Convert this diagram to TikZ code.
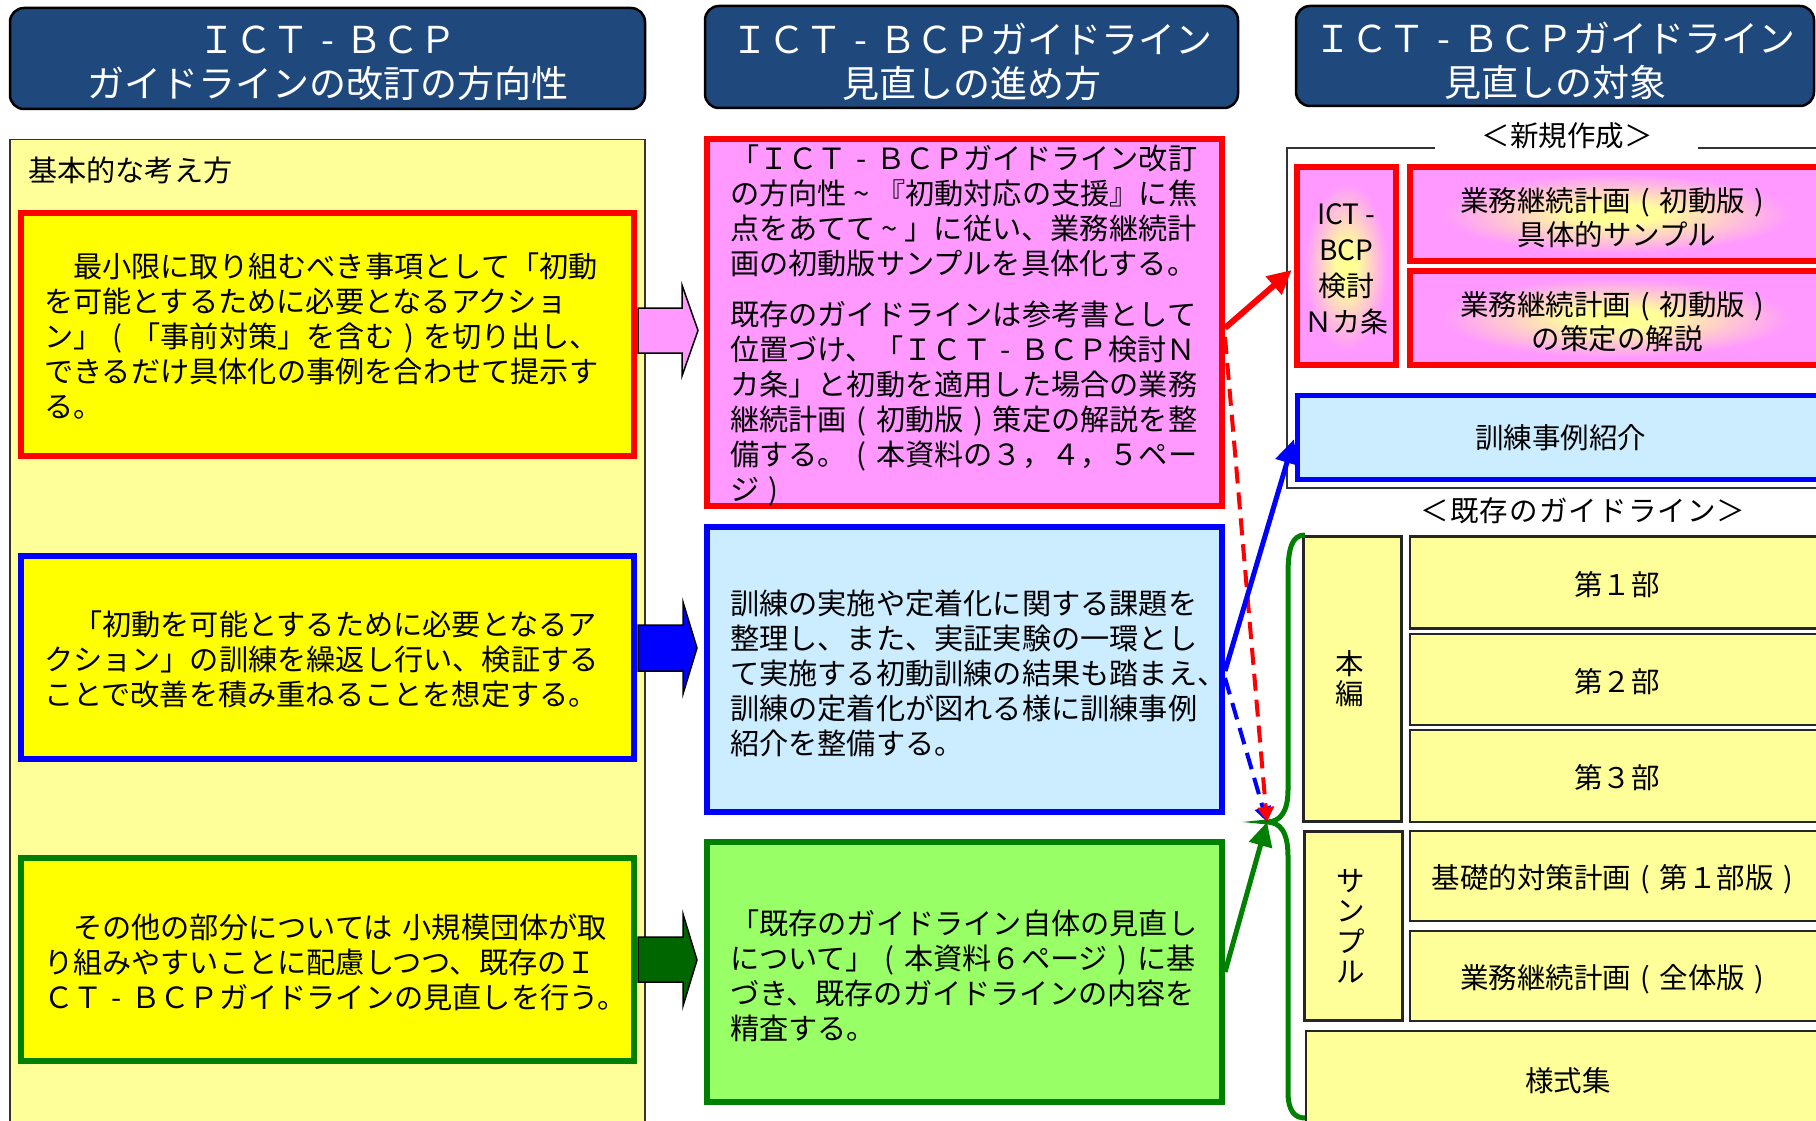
\documentclass[tikz,border=0pt]{standalone}
\usepackage{fontspec}
\setmainfont{Noto Sans CJK JP}
\usetikzlibrary{arrows.meta}
\definecolor{hdrblue}{HTML}{1F497D}
\definecolor{paleyel}{HTML}{FFFF99}
\definecolor{yel}{HTML}{FFFF00}
\definecolor{pinkfill}{HTML}{FF99FF}
\definecolor{skyfill}{HTML}{CCECFF}
\definecolor{limefill}{HTML}{99FF66}
\definecolor{dgreen}{HTML}{008000}
\definecolor{arrgreen}{HTML}{006600}
\pgfdeclareradialshading{pinkglow}{\pgfpoint{0bp}{0bp}}{rgb(0bp)=(1,1,0.55); rgb(5bp)=(1,1,0.6); rgb(21bp)=(1,0.6,1); rgb(50bp)=(1,0.6,1)}
\newcommand{\hdrfont}{\fontsize{37}{44}\selectfont}
\newcommand{\bodyfont}{\fontsize{29.2}{35}\selectfont}
\newcommand{\rfont}{\fontsize{28.5}{34}\selectfont}
\newcommand{\fhy}{\makebox[1em]{-}}
\newcommand{\ftl}{\makebox[1em]{\textasciitilde}}
\newcommand{\lp}{\makebox[1em]{(}}
\newcommand{\rp}{\makebox[1em]{)}}
\tikzset{
  hdr/.style={draw=black, line width=2.5pt, fill=hdrblue, rounded corners=14pt, inner sep=0pt},
  hdrtext/.style={text=white, font=\hdrfont, align=center, inner sep=0pt},
  lbox/.style={line width=6pt, fill=yel, inner sep=0pt, minimum width=613pt},
  ltext/.style={font=\bodyfont, align=left, inner sep=0pt, text width=567pt},
  mbox/.style={line width=6pt, inner sep=0pt, minimum width=515pt},
  mtext/.style={font=\bodyfont, align=left, inner sep=0pt, text width=469pt},
  glowbox/.style={draw=red, line width=6pt, shading=pinkglow, shade, inner sep=0pt},
  oldbox/.style={draw=black!85, line width=2.5pt, fill=paleyel, inner sep=0pt},
  rtext/.style={font=\rfont, align=center, inner sep=0pt},
  lbl/.style={font=\rfont, inner sep=0pt},
  blockarrow/.style={draw=black, line width=1.5pt},
  bigtip/.style={-{Triangle[length=24pt,width=23pt]}},
  smalltip/.style={-{Triangle[length=15pt,width=16pt]}},
  redsolid/.style={bigtip, draw=red, line width=6pt, shorten >=3pt},
  bluesolid/.style={bigtip, draw=blue, line width=5pt, shorten >=2.5pt},
  greensolid/.style={bigtip, draw=dgreen, line width=5pt},
  reddash/.style={smalltip, draw=red, line width=4pt, dash pattern=on 17pt off 9pt},
  bluedash/.style={smalltip, draw=blue, line width=4pt, dash pattern=on 17pt off 9pt},
  bracestyle/.style={draw=dgreen, line width=5pt}
}
\begin{document}
\begin{tikzpicture}[x=1pt, y=-1pt]
\useasboundingbox (0,0) rectangle (1816,1121);
\clip (0,0) rectangle (1816,1121);
\fill[white] (0,0) rectangle (1816,1121);

% headers
\node[hdr, minimum width=635pt, minimum height=101pt] (H1) at (327.5,58.5) {};
\node[hdrtext] (H1t) at ([yshift=-5pt]H1.center) {ＩＣＴ\fhy ＢＣＰ\\ガイドラインの改訂の方向性};
\node[hdr, minimum width=533pt, minimum height=102pt] (H2) at (971.5,57) {};
\node[hdrtext] (H2t) at ([yshift=-5pt]H2.center) {ＩＣＴ\fhy ＢＣＰガイドライン\\見直しの進め方};
\node[hdr, minimum width=518pt, minimum height=100pt] (H3) at (1555,56) {};
\node[hdrtext] (H3t) at ([yshift=-5pt]H3.center) {ＩＣＴ\fhy ＢＣＰガイドライン\\見直しの対象};

% left panel
\node[draw=black!80, line width=1.5pt, fill=paleyel, minimum width=635pt, minimum height=1000pt, anchor=north west, inner sep=0pt] (panel) at (9,139) {};
\node[anchor=west, font=\bodyfont, inner sep=0pt] (kihon) at (28,170) {基本的な考え方};

\node[lbox, draw=red, minimum height=243pt] (L1) at (327.5,334.5) {};
\node[ltext] (L1t) at ([yshift=-2pt]L1.center) {　最小限に取り組むべき事項として「初動\\を可能とするために必要となるアクショ\\ン」\lp「事前対策」を含む\rp を切り出し、\\できるだけ具体化の事例を合わせて提示す\\る。};
\node[lbox, draw=blue, minimum height=203pt] (L2) at (327.5,657.5) {};
\node[ltext] (L2t) at ([yshift=-1.5pt]L2.center) {　「初動を可能とするために必要となるア\\クション」の訓練を繰返し行い、検証する\\ことで改善を積み重ねることを想定する。};
\node[lbox, draw=dgreen, minimum height=203pt] (L3) at (327.5,959.5) {};
\node[ltext] (L3t) at ([yshift=-3pt]L3.center) {　その他の部分については~小規模団体が取\\り組みやすいことに配慮しつつ、既存のＩ\\ＣＴ\fhy ＢＣＰガイドラインの見直しを行う。};

% block arrows
\draw[blockarrow, fill=pinkfill] (638,308) -- (682,308) -- (682,285) -- (698,330.5) -- (682,376) -- (682,353) -- (638,353) -- cycle;
\draw[blockarrow, fill=blue] (638,625) -- (683,625) -- (683,602) -- (697,648) -- (683,694) -- (683,671) -- (638,671) -- cycle;
\draw[blockarrow, fill=arrgreen] (638,937) -- (683,937) -- (683,914) -- (697,960) -- (683,1006) -- (683,982) -- (638,982) -- cycle;

% middle column
\node[mbox, draw=red, fill=pinkfill, minimum height=367pt] (M1) at (964.5,322.5) {};
\node[mtext] (M1t) at ([yshift=-3.5pt]M1.center) {「ＩＣＴ\fhy ＢＣＰガイドライン改訂\\の方向性\ftl『初動対応の支援』に焦\\点をあてて\ftl」に従い、業務継続計\\画の初動版サンプルを具体化する。\\[16pt]既存のガイドラインは参考書として\\位置づけ、「ＩＣＴ\fhy ＢＣＰ検討Ｎ\\カ条」と初動を適用した場合の業務\\継続計画\lp 初動版\rp 策定の解説を整\\備する。\lp 本資料の３，４，５ペー\\ジ\rp};
\node[mbox, draw=blue, fill=skyfill, minimum height=285pt] (M2) at (964.5,669.5) {};
\node[mtext] (M2t) at ([yshift=-3.5pt]M2.center) {訓練の実施や定着化に関する課題を\\整理し、また、実証実験の一環とし\\て実施する初動訓練の結果も踏まえ、\\訓練の定着化が図れる様に訓練事例\\紹介を整備する。};
\node[mbox, draw=dgreen, fill=limefill, minimum height=260pt] (M3) at (964.5,972) {};
\node[mtext] (M3t) at ([yshift=-3.5pt]M3.center) {「既存のガイドライン自体の見直し\\について」\lp 本資料６ページ\rp に基\\づき、既存のガイドラインの内容を\\精査する。};

% right column: new
\draw[line width=2pt, black!80] (1435,148) -| (1287,488) -- (1830,488);
\draw[line width=2pt, black!80] (1698,148) -- (1830,148);
\node[lbl] (shinki) at (1567,136) {＜新規作成＞};
\node[glowbox, minimum width=99pt, minimum height=198pt] (ICT) at (1346.5,266) {};
\node[rtext, font={\fontsize{28}{36}\selectfont}] (ICTt) at ([yshift=-3pt]ICT.center) {ICT -\\BCP\\検討\\Ｎカ条};
\node[glowbox, minimum width=414pt, minimum height=94pt] (R1) at (1617,214) {};
\node[rtext] (R1t) at ([yshift=-3.5pt]R1.center) {業務継続計画\lp 初動版\rp\\具体的サンプル};
\node[glowbox, minimum width=414pt, minimum height=94pt] (R2) at (1617,318) {};
\node[rtext] (R2t) at ([yshift=-3.5pt]R2.center) {業務継続計画\lp 初動版\rp\\の策定の解説};
\node[draw=blue, line width=5pt, fill=skyfill, minimum width=527pt, minimum height=84pt, inner sep=0pt] (train) at (1560.5,437) {};
\node[rtext] (traint) at ([yshift=-1pt]train.center) {訓練事例紹介};

% right column: existing
\node[lbl, font={\rfont\addfontfeature{LetterSpace=4}}] (kison) at (1583,511) {＜既存のガイドライン＞};
\node[oldbox, minimum width=98pt, minimum height=285pt] (honpen) at (1352.5,679) {};
\node[rtext, font={\fontsize{28.5}{30}\selectfont}] (honpent) at ([xshift=-3pt]honpen.center) {本\\編};
\node[oldbox, minimum width=414pt, minimum height=92pt] (p1) at (1617,582.5) {};
\node[rtext] (p1t) at ([yshift=-2pt]p1.center) {第１部};
\node[oldbox, minimum width=414pt, minimum height=91pt] (p2) at (1617,679.5) {};
\node[rtext] (p2t) at ([yshift=-2pt]p2.center) {第２部};
\node[oldbox, minimum width=414pt, minimum height=92pt] (p3) at (1617,776) {};
\node[rtext] (p3t) at ([yshift=-2pt]p3.center) {第３部};
\node[oldbox, minimum width=98pt, minimum height=189pt] (sample) at (1353.5,926) {};
\node[rtext, font={\fontsize{28.5}{30.5}\selectfont}] (samplet) at ([xshift=-3pt]sample.center) {サ\\ン\\プ\\ル};
\node[oldbox, minimum width=414pt, minimum height=90pt] (s1) at (1617,876) {};
\node[rtext] (s1t) at ([yshift=-3pt]s1.center) {基礎的対策計画\lp 第１部版\rp};
\node[oldbox, minimum width=414pt, minimum height=90pt] (s2) at (1617,976) {};
\node[rtext] (s2t) at ([yshift=-3pt]s2.center) {業務継続計画\lp 全体版\rp};
\node[oldbox, minimum width=524pt, minimum height=98pt] (youshiki) at (1568,1080) {};
\node[rtext] (youshikit) at ([yshift=-1pt]youshiki.center) {様式集};

% brace
\coordinate (tip) at (1267,822);
\draw[bracestyle] (1305,535) .. controls (1292,535) and (1288,548) .. (1288,575) -- (1288,790) .. controls (1288,812) and (1280,822) .. (tip) .. controls (1280,822) and (1288,832) .. (1288,856) -- (1288,1092) .. controls (1288,1110) and (1294,1118) .. (1305,1118);

% connectors
\draw[bluedash] (M2.east |- 0,678) -- (tip);
\draw[reddash] (M1.east |- 0,337) -- (tip);
\draw[redsolid] (M1.east |- 0,328) -- (ICT.west |- 0,268);
\draw[bluesolid] (M2.east |- 0,671) -- (train.west);
\draw[greensolid] (M3.east |- 0,972) -- (tip);
\end{tikzpicture}
\end{document}
